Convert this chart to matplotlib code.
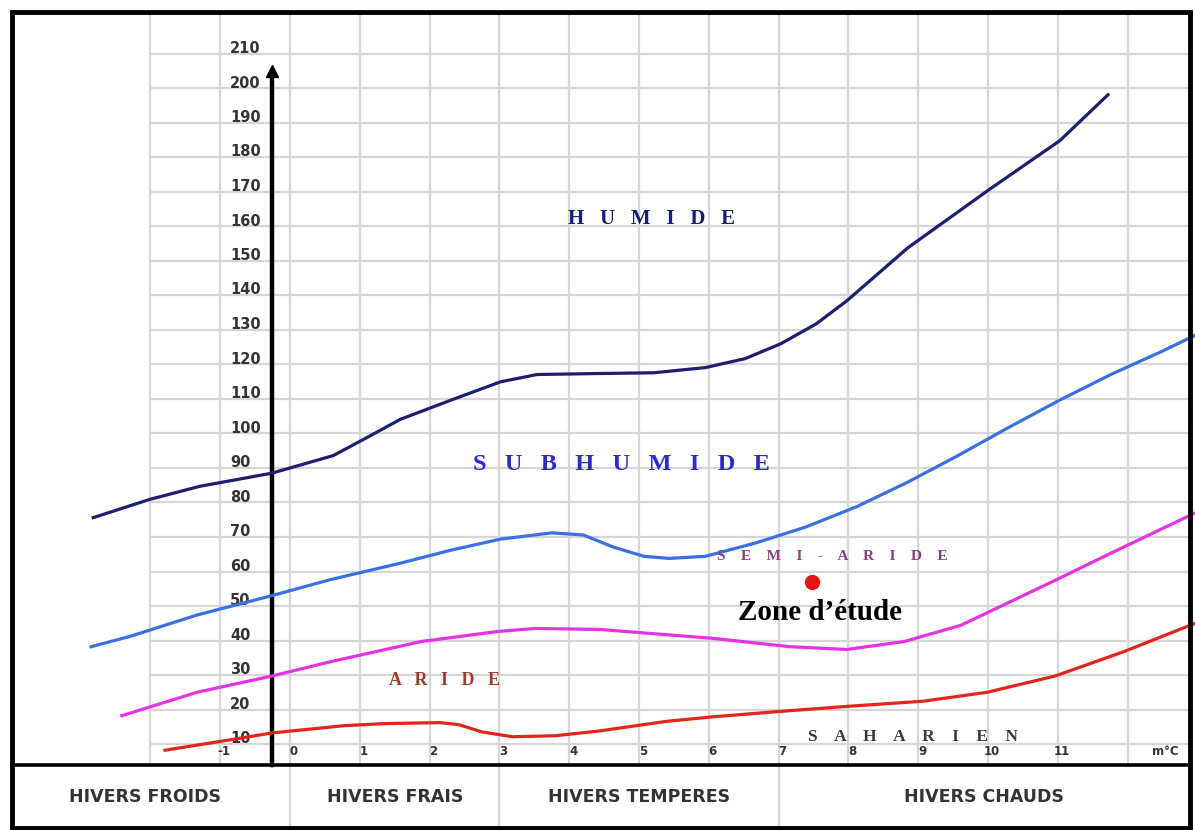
import matplotlib
matplotlib.use("Agg")
import matplotlib.pyplot as plt
from matplotlib.patches import Rectangle
from matplotlib.transforms import ScaledTranslation

# ---- Emberger climagram: Q2 limits of the bioclimatic stages vs m (°C) ----
humide_m = [-2.82, -2.01, -1.29, -0.26, 0.62, 1.10, 1.58, 2.31, 3.02, 3.54, 4.48,
            5.21, 5.95, 6.52, 7.03, 7.54, 7.98, 8.85, 10.01, 11.03, 11.72]
humide_q = [75.6, 80.9, 84.7, 88.5, 93.6, 98.8, 104.1, 109.7, 115.0, 117.1, 117.4,
            117.6, 119.1, 121.7, 126.0, 131.8, 138.5, 153.8, 170.6, 184.9, 198.2]

subhumide_m = [-2.85, -2.29, -1.33, -0.26, 0.57, 1.58, 2.31, 3.02, 3.75, 4.20,
               4.63, 5.07, 5.43, 5.95, 6.66, 7.39, 8.12, 8.85, 9.57, 10.30,
               11.03, 11.76, 12.48, 12.98]
subhumide_q = [38.2, 41.2, 47.4, 53.0, 57.6, 62.4, 66.2, 69.4, 71.2, 70.6,
               67.1, 64.4, 63.8, 64.4, 68.2, 72.9, 78.8, 85.9, 93.6, 101.8,
               109.7, 117.1, 123.7, 128.6]

semiaride_m = [-2.41, -1.33, -0.26, 0.57, 1.88, 2.97, 3.52, 4.44, 6.07, 7.16,
               7.98, 8.80, 9.61, 10.42, 11.03, 11.76, 12.98]
semiaride_q = [18.2, 25.0, 29.7, 33.8, 39.7, 42.6, 43.5, 43.2, 40.6, 38.2,
               37.4, 39.7, 44.4, 52.2, 58.1, 65.3, 77.1]

aride_m = [-1.79, -0.86, -0.26, 0.77, 1.33, 2.15, 2.42, 2.75, 3.19, 3.80,
           4.44, 5.37, 6.07, 6.99, 7.98, 9.07, 9.99, 10.96, 11.95, 12.97]
aride_q = [8.2, 11.2, 13.2, 15.3, 15.9, 16.2, 15.6, 13.5, 12.1, 12.4,
           13.8, 16.5, 17.9, 19.4, 20.9, 22.4, 25.0, 29.7, 36.8, 45.0]

# study site
zone_m = [7.48]
zone_q = [57.0]

x_ticks = list(range(-1, 12))
x_tick_labels = [str(v) for v in x_ticks]
y_ticks = list(range(10, 220, 10))
y_tick_labels = [str(v) for v in y_ticks]

stage_names = ["H U M I D E", "S U B H U M I D E", "S E M I - A R I D E",
               "A R I D E", "S A H A R I E N"]
winter_names = ["HIVERS FROIDS", "HIVERS FRAIS", "HIVERS TEMPERES", "HIVERS CHAUDS"]
winter_limits = [0, 3, 7]

# ---- canvas geometry (pixels) ----
W, H = 1195, 830
X_ORIGIN, PX_DEG = 290.0, 69.8       # pixel column of m = 0, pixels per °C
Y_TEN, PX_Q = 744.0, 3.45            # pixel row of Q2 = 10, pixels per Q2 unit


def mx(px):
    return (px - X_ORIGIN) / PX_DEG


def qy(py):
    return 10 + (Y_TEN - py) / PX_Q


fig = plt.figure(figsize=(W / 100, H / 100), dpi=100)
ax = fig.add_axes([0, 0, 1, 1])
ax.set_xlim(mx(0), mx(W))
ax.set_ylim(qy(H), qy(0))

frame_l, frame_r = mx(12), mx(1190)
frame_t, frame_b = qy(12), qy(828)
base_q = qy(765)          # horizontal axis row
axis_m = mx(272)          # vertical axis column

# grid
grid_c = "#d6d6d6"
ax.hlines(y_ticks, -2, frame_r, color=grid_c, lw=1.6, zorder=0)
ax.vlines(range(-2, 13), base_q, frame_t, color=grid_c, lw=1.6, zorder=0)
ax.vlines(winter_limits, frame_b, base_q, color=grid_c, lw=1.6, zorder=0)

# curves
lw = 2.3
style = dict(lw=lw, zorder=3, solid_joinstyle="round")
ax.plot(humide_m, humide_q, color="#1e1e70", **style)
ax.plot(subhumide_m, subhumide_q, color="#3b6fe4", **style)
ax.plot(semiaride_m, semiaride_q, color="#e632e6", **style)
ax.plot(aride_m, aride_q, color="#e2241c", **style)
ax.plot(zone_m, zone_q, "o", color="#ee1111", ms=10, zorder=4)

# axes lines
for s in ("top", "right"):
    ax.spines[s].set_visible(False)
ax.spines["left"].set_position(("data", axis_m))
ax.spines["left"].set_bounds(base_q, 205)
ax.spines["left"].set_linewidth(3.2)
ax.spines["bottom"].set_position(("data", base_q))
ax.spines["bottom"].set_bounds(frame_l, frame_r)
ax.spines["bottom"].set_linewidth(2.6)
ax.plot([axis_m], [205], marker="^", color="black", ms=8, zorder=5, clip_on=False)

# ticks
tick_font = dict(family="DejaVu Sans", weight="bold")
ax.set_xticks(x_ticks, x_tick_labels)
ax.set_yticks(y_ticks, y_tick_labels)
ax.tick_params(axis="both", length=0, colors="#333333")
ax.tick_params(axis="y", pad=30.2, labelsize=10.5)
ax.tick_params(axis="x", pad=-9.5, labelsize=9)
up = ScaledTranslation(0, 7 / 100, fig.dpi_scale_trans)
for lab in ax.get_yticklabels():
    lab.set_fontproperties(dict(tick_font, size=10.5))
    lab.set_ha("left")
    lab.set_transform(lab.get_transform() + up)
right = ScaledTranslation(4 / 100, 0, fig.dpi_scale_trans)
for lab in ax.get_xticklabels():
    lab.set_fontproperties(dict(tick_font, size=8.5))
    lab.set_va("center")
    lab.set_transform(lab.get_transform() + right)
ax.text(mx(1165), qy(751), "m°C", ha="center", va="center", color="#333333",
        fontsize=8.5, **tick_font)

# stage labels
serif = "Liberation Serif"
SPACE = "   "
ax.text(mx(651), qy(219), stage_names[0].replace(" ", SPACE), ha="center", va="center",
        family=serif, weight="bold", fontsize=15, color="#1c1c78", zorder=6)
ax.text(mx(621), qy(464), stage_names[1].replace(" ", SPACE), ha="center", va="center",
        family=serif, weight="bold", fontsize=17.5, color="#2a2ad2", zorder=6)
ax.text(mx(832), qy(556), stage_names[2].replace(" ", "    "), ha="center", va="center",
        family=serif, weight="bold", fontsize=11, color="#8b3d80", zorder=6)
ax.text(mx(445), qy(680), stage_names[3].replace(" ", SPACE), ha="center", va="center",
        family=serif, weight="bold", fontsize=13, color="#a33a2e", zorder=6)
ax.text(mx(913), qy(741), stage_names[4].replace(" ", "    "), ha="center", va="baseline",
        family=serif, weight="bold", fontsize=12.5, color="#3a3a3a", zorder=6)
ax.text(mx(820), qy(612), "Zone d\u2019étude", ha="center", va="center",
        family=serif, weight="bold", fontsize=21, color="black", zorder=6)

# winter categories
bounds = [mx(0)] + winter_limits + [frame_r]
band_q = (base_q + frame_b) / 2
for name, a, b in zip(winter_names, bounds[:-1], bounds[1:]):
    ax.text((a + b) / 2, band_q, name, ha="center", va="center",
            fontsize=12.5, color="#333333", **tick_font)

# outer frame
ax.add_patch(Rectangle((frame_l, frame_b), frame_r - frame_l, frame_t - frame_b,
                       fill=False, lw=3.5, edgecolor="black", zorder=7, clip_on=False))

fig.savefig("out.png", dpi=100, facecolor="white")
